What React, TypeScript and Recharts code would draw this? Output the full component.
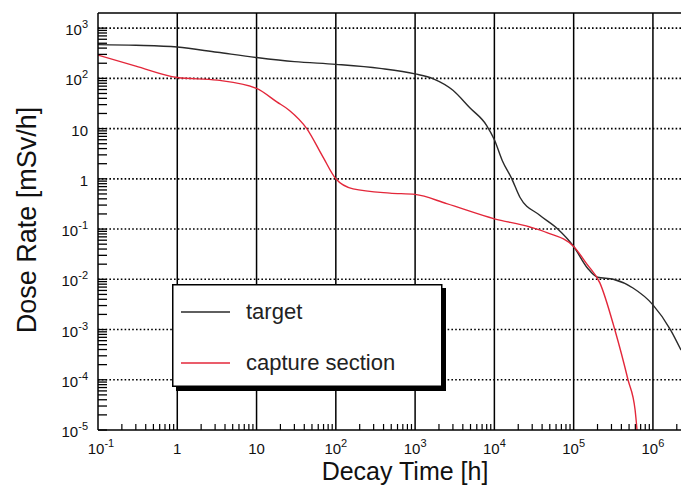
import React from 'react';
import { LineChart, Line, XAxis, YAxis, ReferenceLine, Legend } from 'recharts';

const FONT = '"Liberation Sans", Arial, Helvetica, sans-serif';

// ---- data ----
const targetTimes = [0.1, 0.3, 1, 3.2, 10, 30, 100, 360, 1000, 1700, 3000, 4900, 8000, 10000, 12600, 16600, 21000, 37000, 63000, 100000, 150000, 200000, 316000, 560000, 1000000, 1660000, 2260000];
const targetDose = [470, 455, 420, 330, 260, 215, 190, 158, 123, 98, 58, 26, 11.5, 6, 2.3, 1, 0.43, 0.19, 0.1, 0.045, 0.0166, 0.011, 0.01, 0.0067, 0.0031, 0.001, 0.00039];

const captureTimes = [0.1, 0.3, 1, 3.2, 10, 18, 26, 43, 69, 100, 165, 480, 1000, 2500, 10000, 28000, 46000, 100000, 147000, 214000, 330000, 485000, 596000, 630000];
const captureDose = [290, 175, 104, 92, 63, 34, 23, 10, 2.7, 1, 0.63, 0.52, 0.49, 0.32, 0.16, 0.11, 0.085, 0.045, 0.02, 0.0085, 0.001, 0.0001, 0.000025, 0.00001];

const seriesNames = ['target', 'capture section'];
const seriesColors = ['#2a2a2a', '#e3273a'];

// ---- axes ----
const X_DOMAIN = [0.1, 2.26e6];
const Y_DOMAIN = [1e-5, 2000];
const xDecades = [0.1, 1, 10, 100, 1e3, 1e4, 1e5, 1e6];
const xDecadeLabels = [['10', '-1'], ['1', ''], ['10', ''], ['10', '2'], ['10', '3'], ['10', '4'], ['10', '5'], ['10', '6']];
const yDecades = [1e-5, 1e-4, 1e-3, 1e-2, 1e-1, 1, 10, 100, 1000];
const yDecadeLabels = [['10', '-5'], ['10', '-4'], ['10', '-3'], ['10', '-2'], ['10', '-1'], ['1', ''], ['10', ''], ['10', '2'], ['10', '3']];
const minorMultipliers = [2, 3, 4, 5, 6, 7, 8, 9];

const xMinor = xDecades.flatMap((d) => minorMultipliers.map((m) => m * d)).filter((v) => v <= X_DOMAIN[1]);
const yMinor = yDecades.slice(0, -1).flatMap((d) => minorMultipliers.map((m) => m * d));
const xTicks = [...xDecades, ...xMinor].sort((a, b) => a - b);
const yTicks = [...yDecades, ...yMinor].sort((a, b) => a - b);

const targetSeries = targetTimes.map((x, i) => ({ x, y: targetDose[i] }));
const captureSeries = captureTimes.map((x, i) => ({ x, y: captureDose[i] }));

const XTick = (props: any) => {
  const { x, y, payload } = props;
  const idx = xDecades.indexOf(payload.value);
  const lab = idx >= 0 ? xDecadeLabels[idx] : null;
  return (
    <g>
      {idx < 0 && <line x1={x} x2={x} y1={y} y2={y - 6} stroke="#000" strokeWidth={1.2} />}
      {lab && (
        <text x={x + (idx === 0 ? 3 : 0)} y={y + 24} textAnchor="middle" fontSize={15} fontFamily={FONT} fill="#111">
          {lab[0]}
          {lab[1] && (
            <tspan dy={-7} fontSize={11}>
              {lab[1]}
            </tspan>
          )}
        </text>
      )}
    </g>
  );
};

const YTick = (props: any) => {
  const { x, y, payload } = props;
  const idx = yDecades.indexOf(payload.value);
  const lab = idx >= 0 ? yDecadeLabels[idx] : null;
  return (
    <g>
      <line x1={x} x2={x + 9} y1={y} y2={y} stroke="#000" strokeWidth={1.3} />
      {lab && (
        <text x={x - 10} y={y + 7} textAnchor="end" fontSize={15} fontFamily={FONT} fill="#111">
          {lab[0]}
          {lab[1] && (
            <tspan dy={-7} fontSize={11}>
              {lab[1]}
            </tspan>
          )}
        </text>
      )}
    </g>
  );
};

const XTitle = () => (
  <text x={405} y={480} textAnchor="middle" fontSize={25} fontFamily={FONT} fill="#111">
    Decay Time [h]
  </text>
);

const YTitle = () => (
  <text
    x={27}
    y={220}
    textAnchor="middle"
    dominantBaseline="central"
    transform="rotate(-90 27 220)"
    fontSize={27}
    fontFamily={FONT}
    fill="#111"
  >
    Dose Rate [mSv/h]
  </text>
);

const LegendBox = () => (
  <svg width={276} height={109} style={{ display: 'block' }}>
    <rect x={4} y={4} width={270} height={103} fill="#000" />
    <rect x={0.75} y={0.75} width={269} height={101.5} fill="#fff" stroke="#000" strokeWidth={1.5} />
    {seriesNames.map((name, i) => (
      <g key={name}>
        <line x1={9} x2={58} y1={28 + i * 51} y2={28 + i * 51} stroke={seriesColors[i]} strokeWidth={1.5} />
        <text x={74} y={35 + i * 51} fontSize={22} fontFamily={FONT} fill="#222">
          {name}
        </text>
      </g>
    ))}
  </svg>
);

export default function App() {
  return (
    <div style={{ position: 'absolute', left: 0, top: 0, width: 681, height: 491, background: '#fff', overflow: 'hidden' }}>
      <LineChart width={681} height={491} margin={{ top: 13, right: 0, bottom: 0, left: 0 }}>
        <XAxis
          dataKey="x"
          type="number"
          scale="log"
          domain={X_DOMAIN}
          allowDataOverflow
          ticks={xTicks}
          interval={0}
          tick={<XTick />}
          tickLine={false}
          tickSize={0}
          tickMargin={0}
          height={61}
          axisLine={{ stroke: '#000', strokeWidth: 1.5 }}
          label={<XTitle />}
        />
        <YAxis
          dataKey="y"
          type="number"
          scale="log"
          domain={Y_DOMAIN}
          allowDataOverflow
          ticks={yTicks}
          interval={0}
          tick={<YTick />}
          tickLine={false}
          tickSize={0}
          tickMargin={0}
          width={98}
          axisLine={{ stroke: '#000', strokeWidth: 1.5 }}
          label={<YTitle />}
        />
        {yDecades
          .filter((v) => v > Y_DOMAIN[0])
          .map((v) => (
            <ReferenceLine key={'h' + v} y={v} stroke="#000" strokeWidth={1.6} strokeDasharray="1.6 2.2" />
          ))}
        {xDecades
          .filter((v) => v > X_DOMAIN[0])
          .map((v) => (
            <ReferenceLine key={'v' + v} x={v} stroke="#000" strokeWidth={1.5} />
          ))}
        <ReferenceLine y={Y_DOMAIN[1]} stroke="#000" strokeWidth={1.5} />
        <Line
          data={targetSeries}
          dataKey="y"
          name={seriesNames[0]}
          type="monotone"
          stroke={seriesColors[0]}
          strokeWidth={1.4}
          dot={false}
          isAnimationActive={false}
        />
        <Line
          data={captureSeries}
          dataKey="y"
          name={seriesNames[1]}
          type="monotone"
          stroke={seriesColors[1]}
          strokeWidth={1.4}
          dot={false}
          isAnimationActive={false}
        />
        <Legend
          layout="vertical"
          verticalAlign="middle"
          align="center"
          content={() => <LegendBox />}
          wrapperStyle={{ position: 'absolute', left: 172, top: 284, width: 276, height: 109 }}
        />
      </LineChart>
    </div>
  );
}
